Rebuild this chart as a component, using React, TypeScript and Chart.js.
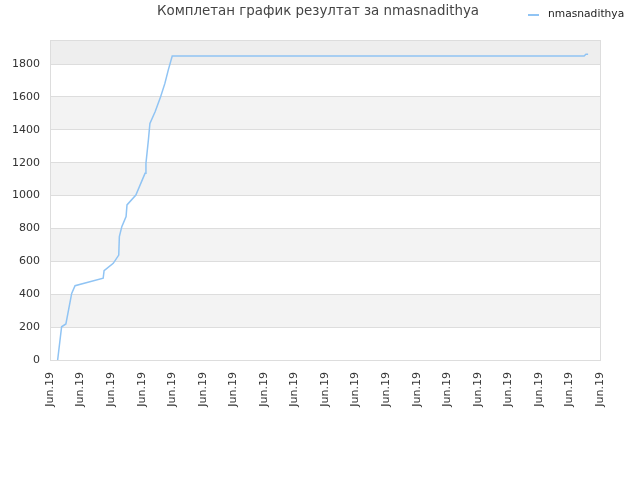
import React, { useEffect, useRef } from "react";
import { Chart, registerables } from "chart.js";

Chart.register(...registerables);

const titleText = "Комплетан график резултат за nmasnadithya";
const seriesName = "nmasnadithya";
const xTickLabels = Array.from({ length: 19 }, () => "Jun.19");
const xPositions = [0.25, 0.38, 0.52, 0.71, 0.82, 1.74, 1.77, 2.07, 2.25, 2.27, 2.35, 2.49, 2.52, 2.81, 3.11, 3.14, 3.22, 3.27, 3.44, 3.62, 3.76, 3.87, 4.0, 17.48, 17.54, 17.61];
const yValues = [0, 202, 219, 405, 452, 497, 543, 588, 638, 750, 811, 872, 943, 1003, 1135, 1196, 1338, 1439, 1510, 1601, 1682, 1763, 1849, 1849, 1860, 1860];
const yTickValues = [0, 200, 400, 600, 800, 1000, 1200, 1400, 1600, 1800];
const yMax = 1946;

const bandsPlugin = {
  id: "bands",
  beforeDraw(chart: any) {
    const { ctx, chartArea } = chart;
    const y = chart.scales.y;
    ctx.save();
    ctx.fillStyle = "#ffffff";
    ctx.fillRect(0, 0, chart.width, chart.height);
    for (let i = 0; i < yTickValues.length; i++) {
      const lo = yTickValues[i];
      const hi = i + 1 < yTickValues.length ? yTickValues[i + 1] : yMax;
      const top = y.getPixelForValue(hi);
      const bot = y.getPixelForValue(lo);
      if (i === yTickValues.length - 1) ctx.fillStyle = "#eeeeee";
      else if (i % 2 === 1) ctx.fillStyle = "#f3f3f3";
      else continue;
      ctx.fillRect(chartArea.left, top, chartArea.right - chartArea.left, bot - top);
    }
    ctx.restore();
  },
  afterDraw(chart: any) {
    const { ctx, chartArea } = chart;
    ctx.save();
    ctx.strokeStyle = "#dddddd";
    ctx.lineWidth = 1;
    ctx.strokeRect(chartArea.left + 0.5, chartArea.top + 0.5, chartArea.right - chartArea.left, chartArea.bottom - chartArea.top);
    ctx.fillStyle = "#444444";
    ctx.font = "13.4px 'DejaVu Sans'";
    ctx.textAlign = "center";
    ctx.textBaseline = "middle";
    ctx.fillText(titleText, 318, 12);
    ctx.strokeStyle = "#90c4f4";
    ctx.lineWidth = 2;
    ctx.beginPath();
    ctx.moveTo(528, 15);
    ctx.lineTo(539, 15);
    ctx.stroke();
    ctx.fillStyle = "#222222";
    ctx.font = "10.7px 'DejaVu Sans'";
    ctx.textAlign = "left";
    ctx.fillText(seriesName, 548, 14);
    ctx.restore();
  },
};

export default function App() {
  const ref = useRef<HTMLCanvasElement>(null);
  useEffect(() => {
    document.body.style.margin = "0";
    const chart = new Chart(ref.current!, {
      type: "line",
      data: {
        datasets: [
          {
            label: seriesName,
            data: xPositions.map((x, i) => ({ x, y: yValues[i] })),
            borderColor: "#90c4f4",
            backgroundColor: "#90c4f4",
            borderWidth: 1.5,
            pointRadius: 0,
            tension: 0,
            fill: false,
          },
        ],
      },
      options: {
        animation: false,
        responsive: false,
        layout: { padding: { top: 40, right: 40, left: 0, bottom: 0 } },
        plugins: { legend: { display: false }, title: { display: false }, tooltip: { enabled: false } },
        scales: {
          x: {
            type: "linear",
            min: 0,
            max: 18,
            afterBuildTicks(scale: any) {
              scale.ticks = xTickLabels.map((_, i) => ({ value: i }));
            },
            afterFit(scale: any) {
              scale.height = 120;
            },
            ticks: {
              autoSkip: false,
              minRotation: 90,
              maxRotation: 90,
              color: "#333333",
              font: { family: "'DejaVu Sans'", size: 11 },
              padding: 12,
              callback: (v: any) => xTickLabels[Math.round(Number(v))] ?? "",
            },
            grid: { display: false, drawTicks: false },
            border: { display: false },
          },
          y: {
            min: 0,
            max: yMax,
            afterBuildTicks(scale: any) {
              scale.ticks = yTickValues.map((v) => ({ value: v }));
            },
            afterFit(scale: any) {
              scale.width = 50;
            },
            ticks: {
              color: "#333333",
              font: { family: "'DejaVu Sans'", size: 11 },
              padding: 10,
              callback: (v: any) => String(v),
            },
            grid: { color: "#dddddd", drawTicks: false },
            border: { display: false },
          },
        },
      },
      plugins: [bandsPlugin],
    });
    return () => chart.destroy();
  }, []);
  return (
    <div style={{ width: 640, height: 480 }}>
      <canvas ref={ref} width={640} height={480} style={{ display: "block" }} />
    </div>
  );
}
